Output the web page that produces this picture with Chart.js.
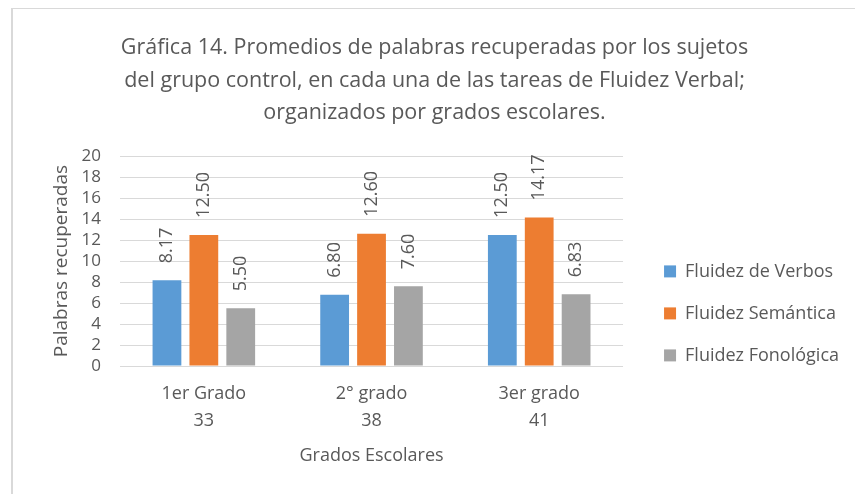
<!DOCTYPE html>
<html>
<head>
<meta charset="utf-8">
<script src="https://cdn.jsdelivr.net/npm/chart.js@4"></script>
<style>
    html, body { margin: 0; padding: 0; background: #ffffff; }
    #wrap { position: relative; width: 855px; height: 494px; }
    #frame {
        position: absolute; left: 11px; top: 8px; right: 0; bottom: 0;
        border-top: 1px solid #d9d9d9; border-left: 2px solid #d9d9d9;
        pointer-events: none;
    }
</style>
</head>
<body>
<div id="wrap">
    <canvas id="chart" width="855" height="494"></canvas>
    <div id="frame"></div>
</div>
<script>
/* ---- DATA ---- */
const grados = ['1er Grado', '2° grado', '3er grado'];
const sujetos = ['33', '38', '41'];
const fluidezVerbos = [8.17, 6.80, 12.50];
const fluidezSemantica = [12.50, 12.60, 14.17];
const fluidezFonologica = [5.50, 7.60, 6.83];
const seriesNames = ['Fluidez de Verbos', 'Fluidez Semántica', 'Fluidez Fonológica'];
const yTicks = [0, 2, 4, 6, 8, 10, 12, 14, 16, 18, 20];

const TEXT = '#595959';
const FONT = '"Open Sans", "DejaVu Sans", sans-serif';

Chart.defaults.font.family = FONT;
Chart.defaults.color = TEXT;

/* ---- VALUE LABELS (rotated, above each bar) ---- */
const barLabels = {
    id: 'barLabels',
    afterDatasetsDraw(chart) {
        const ctx = chart.ctx;
        ctx.save();
        ctx.font = '18px ' + FONT;
        ctx.fillStyle = TEXT;
        ctx.textAlign = 'left';
        ctx.textBaseline = 'middle';
        chart.data.datasets.forEach((ds, i) => {
            chart.getDatasetMeta(i).data.forEach((bar, j) => {
                ctx.save();
                ctx.translate(bar.x, bar.y - 17);
                ctx.rotate(-Math.PI / 2);
                ctx.fillText(ds.data[j].toFixed(2), 0, 0);
                ctx.restore();
            });
        });
        ctx.restore();
    }
};

new Chart(document.getElementById('chart'), {
    type: 'bar',
    data: {
        labels: grados.map((g, i) => [g, sujetos[i]]),
        datasets: [
            { label: seriesNames[0], data: fluidezVerbos, backgroundColor: '#5B9BD5' },
            { label: seriesNames[1], data: fluidezSemantica, backgroundColor: '#ED7D31' },
            { label: seriesNames[2], data: fluidezFonologica, backgroundColor: '#A5A5A5' }
        ]
    },
    options: {
        responsive: false,
        animation: false,
        categoryPercentage: 0.66,
        barPercentage: 0.78,
        layout: { padding: { left: 20, right: 6, top: 20, bottom: 0 } },
        plugins: {
            title: {
                display: true,
                text: [
                    'Gráfica 14. Promedios de palabras recuperadas por los sujetos',
                    'del grupo control, en cada una de las tareas de Fluidez Verbal;',
                    'organizados por grados escolares.'
                ],
                color: TEXT,
                font: { size: 21.5, weight: 'normal', lineHeight: 1.5 },
                padding: { top: 12, bottom: 27.5 }
            },
            legend: {
                position: 'right',
                align: 'start',
                maxWidth: 260,
                title: { display: true, text: '', padding: { top: 0, bottom: 204 } },
                labels: {
                    boxWidth: 12,
                    boxHeight: 12,
                    padding: 24,
                    color: TEXT,
                    font: { size: 18 }
                }
            },
            tooltip: { enabled: false }
        },
        scales: {
            x: {
                grid: { display: false },
                border: { display: false },
                ticks: { font: { size: 18, lineHeight: 1.5 }, padding: 6, color: TEXT },
                title: {
                    display: true,
                    text: 'Grados Escolares',
                    font: { size: 18 },
                    color: TEXT,
                    padding: { top: 0, bottom: 27 }
                },
                afterFit: s => { s.height = 128; }
            },
            y: {
                min: 0,
                max: 20,
                afterBuildTicks: s => { s.ticks = yTicks.map(v => ({ value: v })); },
                grid: { color: '#d9d9d9', drawTicks: false },
                border: { display: false },
                ticks: { font: { size: 17 }, padding: 19, color: TEXT, autoSkip: false },
                title: {
                    display: true,
                    text: 'Palabras recuperadas',
                    font: { size: 19 },
                    color: TEXT,
                    padding: { top: 30, bottom: 0 }
                },
                afterFit: s => { s.width = 100; }
            },
            gap: {
                type: 'linear',
                position: 'right',
                grid: { display: false },
                border: { display: false },
                ticks: { display: false },
                afterFit: s => { s.width = 17; }
            }
        }
    },
    plugins: [barLabels]
});
</script>
</body>
</html>
